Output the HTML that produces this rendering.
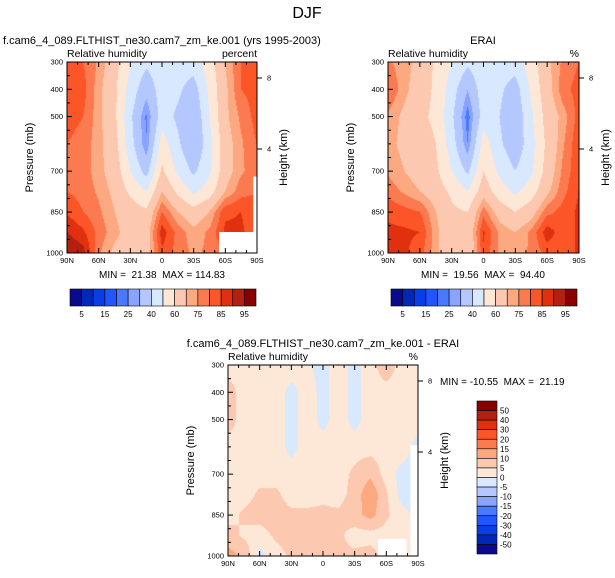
<!DOCTYPE html>
<html><head><meta charset="utf-8"><style>
body{margin:0;background:#fff;width:615px;height:578px;overflow:hidden;position:relative;font-family:"Liberation Sans",Arial,sans-serif}
canvas{position:absolute}
svg{position:absolute;left:0;top:0}
text{white-space:pre}
</style></head><body>
<canvas id="c1" width="190" height="191" style="left:67px;top:62px"></canvas>
<canvas id="c2" width="191" height="191" style="left:388px;top:62px"></canvas>
<canvas id="c3" width="190" height="191" style="left:228px;top:365px"></canvas>
<svg id="s" width="615" height="578"></svg>
<script>
const lats=[90,75,60,45,30,15,0,-15,-30,-45,-60,-75,-90];
const levels=[300,400,500,600,700,775,850,925,1000];
const modelRH=[
[84,80,74,64,50,42,46,45,45,55,70,80,84],
[83,82,72,62,46,33,45,42,35,52,68,80,82],
[82,80,72,62,42,24,45,38,30,50,68,76,82],
[80,78,72,64,44,25,55,42,30,46,66,74,80],
[80,78,72,66,50,36,62,48,38,48,66,74,78],
[80,78,74,68,58,50,70,58,48,55,70,78,80],
[84,80,76,70,65,62,80,70,64,70,84,85,82],
[90,86,78,72,66,65,88,78,72,76,86,86,82],
[95,92,76,68,66,66,84,78,74,76,80,80,80]];
const eraiRH=[
[76,72,68,58,50,42,48,45,45,55,68,76,80],
[80,72,65,58,45,30,46,42,35,52,66,78,82],
[74,68,62,58,42,22,45,40,32,48,64,72,82],
[72,68,65,60,45,25,55,42,33,46,62,74,84],
[74,70,66,62,50,38,60,48,40,48,64,76,84],
[78,74,70,65,58,50,66,55,48,55,68,78,85],
[84,82,80,70,62,60,78,66,60,66,78,82,86],
[86,86,85,72,62,62,86,74,70,76,88,82,86],
[88,86,82,72,62,60,84,74,72,76,82,82,86]];
const diffRH=[
[3,3,3,3,3,1,-2,3,-2,3,8,3,3],
[7,3,3,3,-2,3,-2,3,-2,3,3,3,3],
[7,3,3,3,-2,3,-2,3,-2,3,3,3,3],
[3,3,3,3,-2,3,3,3,3,3,3,3,-2],
[3,3,3,3,3,3,3,3,6,9,3,-2,-2],
[3,3,6,6,3,3,4,3,7,14,6,-2,-2],
[3,6,7,7,6,6,6,6,8,12,6,2,-2],
[7,4,3,6,7,7,6,6,3,3,3,3,3],
[12,9,-2,3,6,6,6,6,6,7,3,3,3]];
const absLevels=[5,10,15,20,25,30,40,50,60,70,75,80,85,90,95];
const absLabels=["5","15","25","40","60","75","85","95"];
const diffLevels=[-50,-40,-30,-20,-15,-10,-5,0,5,10,15,20,30,40,50];
const diffLabels=["50","40","30","20","15","10","5","0","-5","-10","-15","-20","-30","-40","-50"];
const colors=["#0a0a8a","#0028b8","#0a3de6","#2255ff","#4a78ff","#88a4ff","#b4c8ff","#d8e8ff","#fde8d8","#fdc8b0","#fca880","#fb7a50","#fb5528","#e03010","#b42010","#8a0000"];
const rgb=colors.map(c=>[1,3,5].map(i=>parseInt(c.substr(i,2),16)));

function sample(grid,lat,p){
  let fi=(90-lat)/15; let i=Math.min(11,Math.floor(fi)); let tx=fi-i;
  let j=0; while(j<levels.length-2 && p>levels[j+1]) j++;
  let ty=(p-levels[j])/(levels[j+1]-levels[j]);
  const a=grid[j][i],b=grid[j][i+1],c=grid[j+1][i],d=grid[j+1][i+1];
  return (a*(1-tx)+b*tx)*(1-ty)+(c*(1-tx)+d*tx)*ty;
}
function draw(id,grid,lv){
  const cv=document.getElementById(id),ctx=cv.getContext('2d');
  const W=cv.width,H=cv.height,img=ctx.createImageData(W,H);
  for(let y=0;y<H;y++)for(let x=0;x<W;x++){
    const lat=90-x/(W-1)*180,p=300+y/(H-1)*700;
    const v=sample(grid,lat,p);
    let k=0; while(k<lv.length && v>=lv[k]) k++;
    const o=(y*W+x)*4; img.data[o]=rgb[k][0];img.data[o+1]=rgb[k][1];img.data[o+2]=rgb[k][2];img.data[o+3]=255;
  }
  ctx.putImageData(img,0,0);
}
draw('c1',modelRH,absLevels);draw('c2',eraiRH,absLevels);draw('c3',diffRH,diffLevels);

const svg=document.getElementById('s');const NS='http://www.w3.org/2000/svg';
function el(t,attrs,txt){const e=document.createElementNS(NS,t);for(const k in attrs)e.setAttribute(k,attrs[k]);if(txt!=null)e.textContent=txt;svg.appendChild(e);return e;}
function text(x,y,s,size,anchor,name,extra){const e=el('text',Object.assign({x:x,y:y,'font-size':size,'text-anchor':anchor||'start','font-family':'Liberation Sans, Arial, sans-serif',fill:'#000'},extra||{}),s);

return e;}

text(307,18,'DJF',16,'middle','main-title');

function panel(L,T,W,H,title,titleX,titleAnchor,unit,minmax,mmX,mmY,mmAnchor,pfx,whites){
  whites.forEach(r=>{const w=el('rect',{x:L+r[0]*W,y:T+r[1]*H,width:r[2]*W,height:r[3]*H,fill:'#fff'});
  
  });
  const fr=el('rect',{x:L,y:T,width:W,height:H,fill:'none',stroke:'#000','stroke-width':1});
  
  
  const px=lat=>L+(90-lat)/180*W, py=p=>T+(p-300)/700*H;
  for(let lat=90;lat>=-90;lat-=10){const maj=lat%30===0;const len=maj?5:3;
    el('line',{x1:px(lat),x2:px(lat),y1:T+H,y2:T+H-len,stroke:'#000'});
    el('line',{x1:px(lat),x2:px(lat),y1:T,y2:T+len,stroke:'#000'});
    if(maj){const lab=lat===0?'0':Math.abs(lat)+(lat>0?'N':'S');text(px(lat),T+H+10,lab,7.5,'middle',pfx+'-x-tick-label');}}
  for(let p=300;p<=1000;p+=50){const maj=[300,400,500,700,850,1000].includes(p);const len=maj?5:3;
    el('line',{x1:L,x2:L+len,y1:py(p),y2:py(p),stroke:'#000'});
    if(maj)text(L-4,py(p)+2.5,String(p),7.5,'end',pfx+'-y-tick-label');}
  [[8,T+16],[4,T+87]].forEach(h=>{el('line',{x1:L+W,x2:L+W+5,y1:h[1],y2:h[1],stroke:'#000'});text(L+W+10,h[1]+2.5,String(h[0]),7.5,'start',pfx+'-height-tick-label');});
  text(L-34,T+H/2,'Pressure (mb)',11,'middle',pfx+'-y-axis-title',{transform:`rotate(-90 ${L-34} ${T+H/2})`});
  text(L+W+30,T+H/2,'Height (km)',11,'middle',pfx+'-height-axis-title',{transform:`rotate(-90 ${L+W+30} ${T+H/2})`});
  text(titleX,T-18,title,11,titleAnchor,pfx+'-title');
  text(L,T-5,'Relative humidity',10.5,'start',pfx+'-variable-label');
  text(L+W,T-5,unit,10.5,'end',pfx+'-units-label');
  text(mmX,mmY,minmax,10,mmAnchor,pfx+'-min-max');
}
panel(67,62,190,191,'f.cam6_4_089.FLTHIST_ne30.cam7_zm_ke.001 (yrs 1995-2003)',3,'start','percent','MIN =  21.38  MAX = 114.83',162,278,'middle','model',[[0.8,0.89,0.2,0.11],[0.98,0.6,0.02,0.4]]);
panel(388,62,191,191,'ERAI',483,'middle','%','MIN =  19.56  MAX =  94.40',483,278,'middle','erai',[]);
panel(228,365,190,191,'f.cam6_4_089.FLTHIST_ne30.cam7_zm_ke.001 - ERAI',323,'middle','%','MIN = -10.55  MAX =  21.19',440,385,'start','diff',[[0.79,0.91,0.15,0.09],[0.96,0.42,0.04,0.58]]);

function hbar(L,T,W,H,pfx){
  const bw=W/colors.length;
  colors.forEach((c,i)=>{const r=el('rect',{x:L+i*bw,y:T,width:bw,height:H,fill:c,stroke:'#000','stroke-width':0.6});
  
  });
  absLabels.forEach((s,k)=>text(L+(2*k+1)*bw,T+H+11,s,8,'middle',pfx+'-colorbar-label'));
}
hbar(70,289,186,17,'model');hbar(391,289,186,17,'erai');
(function(){const L=477,T=401,W=20,H=153,bh=H/colors.length;
  colors.slice().reverse().forEach((c,i)=>{const r=el('rect',{x:L,y:T+i*bh,width:W,height:bh,fill:c,stroke:'#000','stroke-width':0.6});
  
  });
  diffLabels.forEach((s,k)=>text(L+W+3,T+(k+1)*bh+3,s,8,'start','diff-colorbar-label'));
})();
</script>
</body></html>
